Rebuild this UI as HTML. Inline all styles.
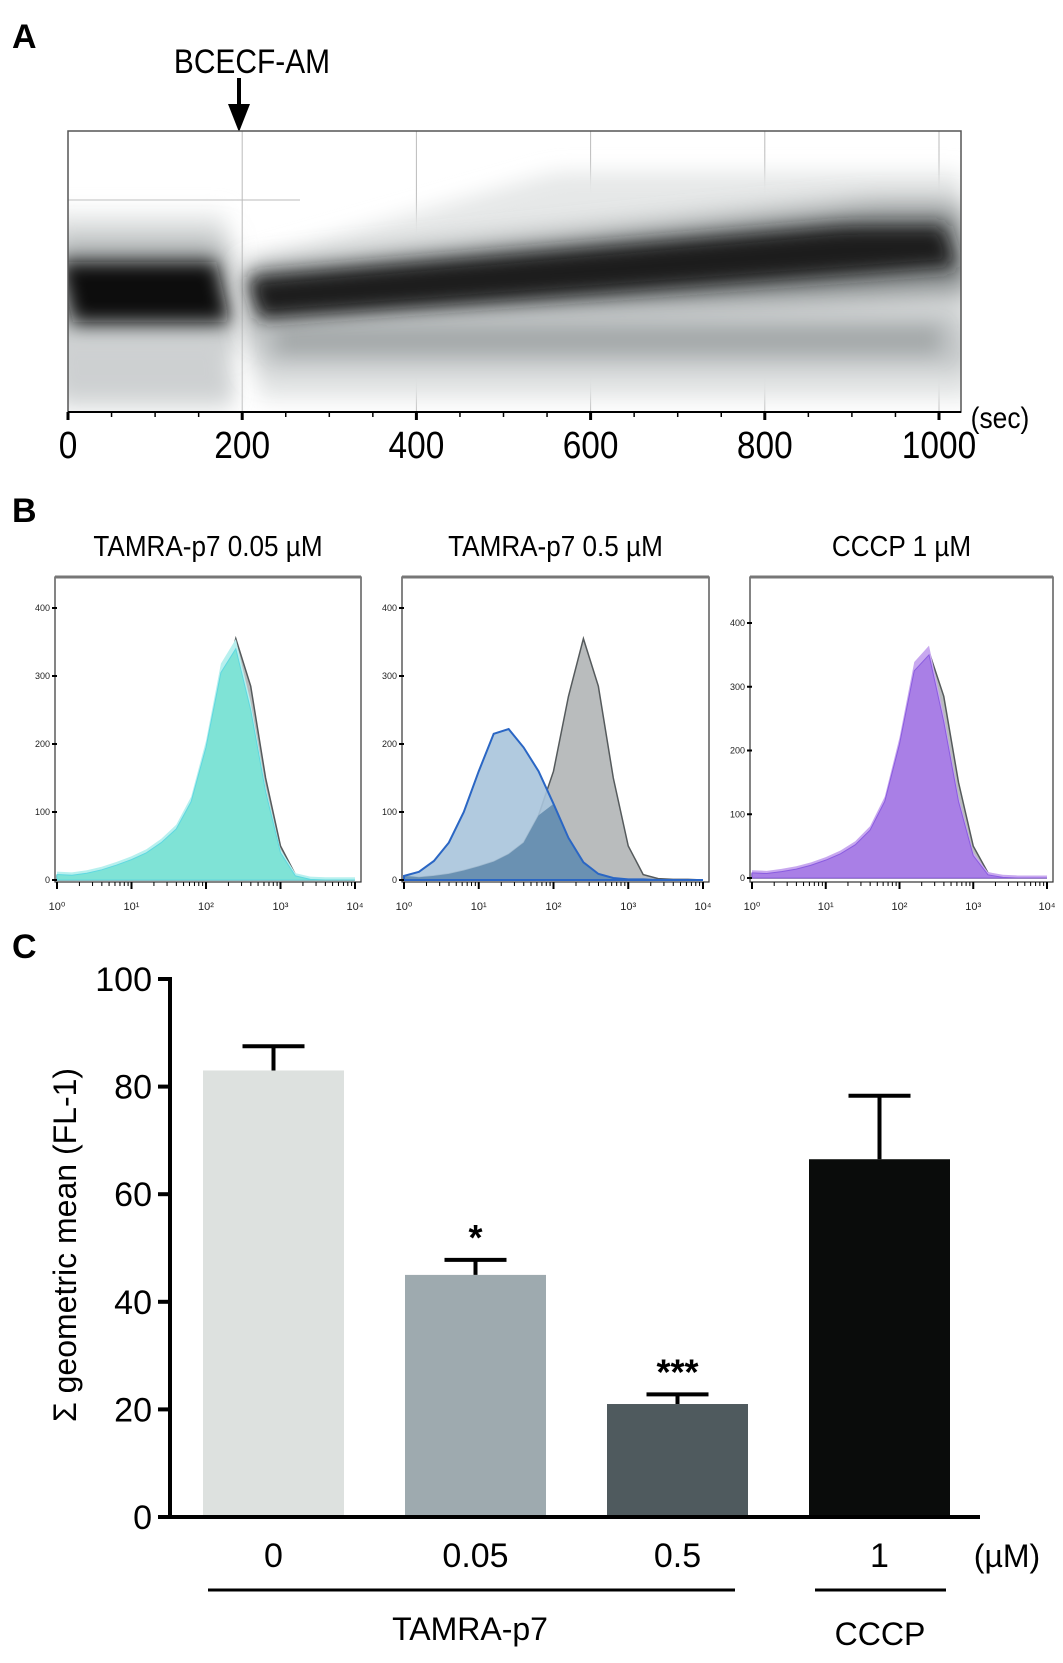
<!DOCTYPE html>
<html><head><meta charset="utf-8">
<style>
html,body{margin:0;padding:0;background:#fff;}
body{width:1063px;height:1658px;overflow:hidden;font-family:"Liberation Sans",sans-serif;}
svg text{font-family:"Liberation Sans",sans-serif;}
</style></head>
<body>
<svg id="fig" width="1063" height="1658" viewBox="0 0 1063 1658" xmlns="http://www.w3.org/2000/svg">
<defs>
<filter id="b6" x="-20%" y="-50%" width="140%" height="200%"><feGaussianBlur stdDeviation="6"/></filter>
<filter id="b9" x="-20%" y="-80%" width="140%" height="260%"><feGaussianBlur stdDeviation="9"/></filter>
<filter id="b10" x="-20%" y="-50%" width="140%" height="200%"><feGaussianBlur stdDeviation="10"/></filter>
<filter id="b14" x="-20%" y="-80%" width="140%" height="260%"><feGaussianBlur stdDeviation="14"/></filter>
<clipPath id="clipA"><rect x="68" y="131" width="893" height="281"/></clipPath>
</defs>

<!-- Panel A -->
<text x="12" y="48" font-size="34" font-weight="bold">A</text>
<text x="252" y="73" font-size="34" text-anchor="middle" transform="translate(252,0) scale(0.88,1) translate(-252,0)">BCECF-AM</text>
<line x1="239" y1="78" x2="239" y2="110" stroke="#000" stroke-width="4"/>
<polygon points="228,104 250,104 239,132" fill="#000"/>
<g id="densityA" clip-path="url(#clipA)"></g>
<rect x="68" y="131" width="893" height="281" fill="none" stroke="#555" stroke-width="1.5"/>
<g id="axisA"></g>
<text x="1000" y="428" font-size="30" text-anchor="middle" transform="translate(1000,0) scale(0.88,1) translate(-1000,0)">(sec)</text>

<!-- Panel B -->
<text x="12" y="522" font-size="34" font-weight="bold">B</text>
<g id="panelB"></g>

<!-- Panel C -->
<text x="12" y="958" font-size="34" font-weight="bold">C</text>
<g id="panelC"></g>
</svg>

<script>
// ---------- Panel C data ----------
const barCategories = ["0", "0.05", "0.5", "1"];
const barValues = [83, 45, 21, 66.5];
const barErrors = [4.5, 2.8, 1.8, 11.8];
const barSig = ["", "*", "***", ""];
const barColors = ["#dde1df", "#9eaaaf", "#4f5a5e", "#0a0c0b"];
const yTicksC = [0, 20, 40, 60, 80, 100];

// ---------- Panel A data ----------
const xTicksA = [0, 200, 400, 600, 800, 1000];

// ---------- Panel B data (counts at log10 = 0,0.2,...,4) ----------
const histLogX = [0,0.2,0.4,0.6,0.8,1.0,1.2,1.4,1.6,1.8,2.0,2.2,2.4,2.6,2.8,3.0,3.2,3.4,3.6,3.8,4.0];
const controlCounts = [6,4,6,9,14,20,27,38,55,95,160,270,355,285,150,50,8,2,1,1,0];
const p7LowCounts = [8,7,10,15,22,30,40,55,75,115,195,305,340,250,130,40,6,1,0,0,0];
const p7HighCounts = [6,12,28,55,100,160,215,222,195,160,112,62,26,9,3,1,1,0,0,0,0];
const cccpCounts = [8,7,10,14,20,28,38,52,75,120,210,325,350,245,120,35,5,1,0,0,0];
const yTicksB = [0, 100, 200, 300, 400];
const histTitles = ["TAMRA-p7 0.05 \u00b5M", "TAMRA-p7 0.5 \u00b5M", "CCCP 1 \u00b5M"];

const NS = "http://www.w3.org/2000/svg";
function mk(tag, attrs, parent) {
  const e = document.createElementNS(NS, tag);
  for (const k in attrs) e.setAttribute(k, attrs[k]);
  parent.appendChild(e);
  return e;
}

// ---------- Panel A ----------
const xA = t => 68 + t * 0.871;
const gA = document.getElementById("densityA");
mk("rect", {x:68,y:131,width:893,height:281,fill:"#fff"}, gA);
xTicksA.slice(1).forEach(t => {
  const l = mk("line", {x1:xA(t),y1:131,x2:xA(t),y2:412,stroke:"#bbb","stroke-width":1}, gA);
  
  
});
mk("line", {x1:68,y1:200,x2:300,y2:200,stroke:"#bbb","stroke-width":1}, gA);
function band(topFn, botFn, t0, t1, fill, filt) {
  let pts = [];
  for (let t = t0; t <= t1; t += 20) pts.push(xA(t) + "," + topFn(t));
  for (let t = t1; t >= t0; t -= 20) pts.push(xA(t) + "," + botFn(t));
  const p = mk("polygon", {points: pts.join(" "), fill: fill, filter: filt}, gA);
  
  
}
band(t=>212, t=>412, -20, 190, "#e9ebeb", "url(#b10)");
band(t=>Math.max(172, 262 - (t-200)*0.25), t=>400, 205, 1040, "#e6e8e8", "url(#b10)");
band(t=>238, t=>345, -20, 188, "#a9adae", "url(#b14)");
band(t=>335, t=>400, -20, 188, "#cdd0d1", "url(#b10)");
band(t=>Math.max(205, 270 - (t-200)*0.09), t=>Math.max(290, 335 - (t-200)*0.05), 205, 1040, "#868b8c", "url(#b14)");
band(t=>310, t=>370, 205, 1040, "#bdc1c2", "url(#b14)");
band(t=>328, t=>352, 240, 1000, "#a3a7a8", "url(#b9)");
band(t=>262, t=>322, -10, 186, "#111", "url(#b9)");
band(t=>Math.max(226, 278 - (t-200)*0.075), t=>Math.max(266, 320 - (t-200)*0.065), 206, 1020, "#1c1e1e", "url(#b9)");

const axA = document.getElementById("axisA");
mk("line", {x1:68,y1:412,x2:961,y2:412,stroke:"#000","stroke-width":2}, axA);
for (let t = 0; t <= 1000; t += 50) {
  mk("line", {x1:xA(t),y1:412,x2:xA(t),y2:t%200===0?420:417,stroke:"#000","stroke-width":t%200===0?3:1.5}, axA);
}
xTicksA.forEach(t => {
  const tx = mk("text", {x:xA(t),y:458,"font-size":38,"text-anchor":"middle",transform:`translate(${xA(t)},0) scale(0.88,1) translate(${-xA(t)},0)`}, axA);
  tx.textContent = t;
  
  
});

// ---------- Panel B ----------
const gB = document.getElementById("panelB");
const boxes = [{x0:55,x1:361,y400:608,y0:880},{x0:402,x1:709,y400:608,y0:880},{x0:750,x1:1053,y400:623,y0:878}];
const overlays = [
  {data:p7LowCounts, fill:"#7fe3d6", stroke:"#5fd8e0", light:"#b8f0ee"},
  {data:p7HighCounts, fill:"#a9c4dc", stroke:"#2a66c4", light:null},
  {data:cccpCounts, fill:"#a97fe6", stroke:"#8a5ce0", light:"#c8a8ef"}
];
const sup = ["\u2070","\u00b9","\u00b2","\u00b3","\u2074"];
boxes.forEach((b, i) => {
  const g = mk("g", {}, gB);
  
  
  const cx = (b.x0 + b.x1) / 2;
  const ti = mk("text", {x:cx,y:556,"font-size":29,"text-anchor":"middle",transform:`translate(${cx},0) scale(0.9,1) translate(${-cx},0)`}, g);
  ti.textContent = histTitles[i];
  
  
  const px = l => b.x0 + 2 + l / 4 * (b.x1 - b.x0 - 8);
  const py = c => b.y0 - c / 400 * (b.y0 - b.y400);
  const path = arr => {
    let d = `M${px(histLogX[0])},${b.y0}`;
    histLogX.forEach((l, k) => { d += ` L${px(l)},${py(arr[k])}`; });
    return d + ` L${px(histLogX[histLogX.length-1])},${b.y0} Z`;
  };
  const ov = overlays[i];
  const gray = mk("path", {d:path(controlCounts), fill:"#b9bcbd", stroke:"#555a5c","stroke-width":1.5}, g);
  
  
  if (i === 1) {
    const blue = mk("path", {d:path(ov.data), fill:ov.fill, "fill-opacity":0.9, stroke:"none"}, g);
    
    
    const mins = ov.data.map((v, k) => Math.min(v, controlCounts[k]));
    const ovl = mk("path", {d:path(mins), fill:"#6a91b2", stroke:"none"}, g);
    
    
    mk("path", {d:path(ov.data), fill:"none", stroke:ov.stroke, "stroke-width":2}, g);
  } else {
    const lt = mk("path", {d:path(ov.data.map(v=>v*1.03+4)), fill:ov.light, stroke:"none"}, g);
    
    
    const tr = mk("path", {d:path(ov.data), fill:ov.fill, stroke:ov.stroke, "stroke-width":1}, g);
    
    
  }
  mk("rect", {x:b.x0,y:577,width:b.x1-b.x0,height:882-577,fill:"none",stroke:"#333","stroke-width":1.2}, g);
  mk("line", {x1:b.x0,y1:577,x2:b.x1,y2:577,stroke:"#777","stroke-width":3}, g);
  yTicksB.forEach(v => {
    mk("line", {x1:b.x0-3,y1:py(v),x2:b.x0+2,y2:py(v),stroke:"#000","stroke-width":2}, g);
    const t = mk("text", {x:b.x0-5,y:py(v)+3,"font-size":9,"text-anchor":"end",fill:"#222"}, g);
    t.textContent = v;
    
    
  });
  for (let d = 0; d <= 4; d++) {
    mk("line", {x1:px(d),y1:882,x2:px(d),y2:889,stroke:"#000","stroke-width":2}, g);
    if (d < 4) for (let m = 2; m <= 9; m++) {
      const xx = px(d + Math.log10(m));
      mk("line", {x1:xx,y1:882,x2:xx,y2:886,stroke:"#000","stroke-width":1}, g);
    }
    const t = mk("text", {x:px(d),y:910,"font-size":11,"text-anchor":"middle",fill:"#222"}, g);
    t.textContent = "10" + sup[d];
    
    
  }
});

// ---------- Panel C ----------
const gC = document.getElementById("panelC");
const yC = v => 1517 - v * 5.38;
const barLeft = [203, 405, 607, 809];
const bw = 141;
barValues.forEach((v, i) => {
  const r = mk("rect", {x:barLeft[i], y:yC(v), width:bw, height:1517 - yC(v), fill:barColors[i]}, gC);
  
  
  const cx = barLeft[i] + bw / 2;
  const top = yC(v + barErrors[i]);
  const e = mk("path", {d:`M${cx},${yC(v)} L${cx},${top} M${cx-31},${top} L${cx+31},${top}`, stroke:"#000","stroke-width":4,fill:"none"}, gC);
  
  
  if (barSig[i]) {
    const s = mk("text", {x:cx, y:top - 10, "font-size":36, "font-weight":"bold", "text-anchor":"middle"}, gC);
    s.textContent = barSig[i];
    
    
  }
  const lb = mk("text", {x:cx, y:1567, "font-size":34, "text-anchor":"middle"}, gC);
  lb.textContent = barCategories[i];
  
  
});
mk("line", {x1:170,y1:yC(100)-2,x2:170,y2:1519,stroke:"#000","stroke-width":4}, gC);
mk("line", {x1:158,y1:1517,x2:980,y2:1517,stroke:"#000","stroke-width":4}, gC);
yTicksC.forEach(v => {
  mk("line", {x1:158,y1:yC(v),x2:170,y2:yC(v),stroke:"#000","stroke-width":4}, gC);
  const t = mk("text", {x:152,y:yC(v)+12,"font-size":34,"text-anchor":"end"}, gC);
  t.textContent = v;
  
  
});
const yt = mk("text", {x:0,y:0,"font-size":32,"text-anchor":"middle",transform:"translate(76,1245) rotate(-90)"}, gC);
yt.textContent = "\u03a3 geometric mean (FL-1)";


const um = mk("text", {x:1007,y:1567,"font-size":32,"text-anchor":"middle"}, gC);
um.textContent = "(\u00b5M)";


mk("line", {x1:208,y1:1590,x2:735,y2:1590,stroke:"#000","stroke-width":3}, gC);
mk("line", {x1:815,y1:1590,x2:946,y2:1590,stroke:"#000","stroke-width":3}, gC);
const g1 = mk("text", {x:470,y:1640,"font-size":32,"text-anchor":"middle"}, gC);
g1.textContent = "TAMRA-p7";


const g2 = mk("text", {x:880,y:1645,"font-size":32,"text-anchor":"middle"}, gC);
g2.textContent = "CCCP";


</script>
</body></html>
